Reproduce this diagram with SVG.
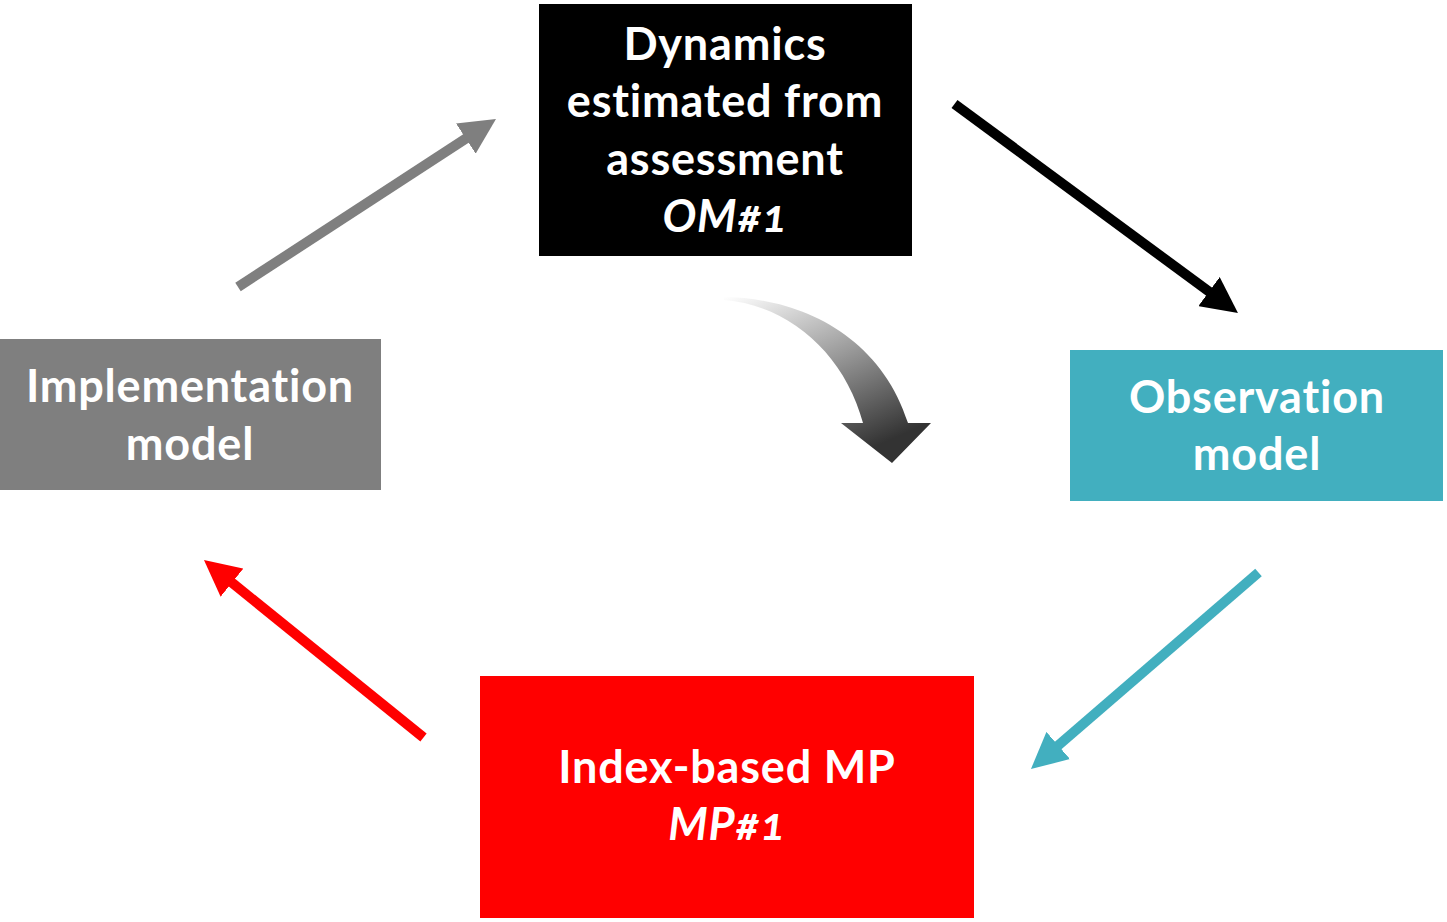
<svg xmlns="http://www.w3.org/2000/svg" width="1447" height="922" viewBox="0 0 1447 922">
<style>
.lbl{font-family:Lato,"Open Sans","Liberation Sans",sans-serif;font-weight:bold;font-size:45px;letter-spacing:0.8px;fill:#ffffff;text-anchor:middle;font-variant-numeric:oldstyle-nums;font-variant-ligatures:none}
.it{font-style:italic}
.conn{stroke-width:10;fill:none;stroke-linecap:butt}
</style>
<defs>
<marker id="hGray" viewBox="0 0 36 36" refX="2" refY="18" markerWidth="36" markerHeight="36" markerUnits="userSpaceOnUse" orient="auto"><path d="M0 0 L36 18 L0 36 Z" fill="#7f7f7f"/></marker>
<marker id="hBlack" viewBox="0 0 36 36" refX="2" refY="18" markerWidth="36" markerHeight="36" markerUnits="userSpaceOnUse" orient="auto"><path d="M0 0 L36 18 L0 36 Z" fill="#000000"/></marker>
<marker id="hTeal" viewBox="0 0 36 36" refX="2" refY="18" markerWidth="36" markerHeight="36" markerUnits="userSpaceOnUse" orient="auto"><path d="M0 0 L36 18 L0 36 Z" fill="#42afbf"/></marker>
<marker id="hRed" viewBox="0 0 36 36" refX="2" refY="18" markerWidth="36" markerHeight="36" markerUnits="userSpaceOnUse" orient="auto"><path d="M0 0 L36 18 L0 36 Z" fill="#ff0000"/></marker>
<linearGradient id="curveGrad" x1="0" y1="0" x2="0.55" y2="1">
<stop offset="0" stop-color="#ffffff"/>
<stop offset="0.5" stop-color="#9a9a9a"/>
<stop offset="1" stop-color="#333333"/>
</linearGradient>
</defs>
<rect width="1447" height="922" fill="#ffffff"/>
<g id="connectors">
<line class="conn" x1="238" y1="287" x2="467.5" y2="137.5" stroke="#7f7f7f" marker-end="url(#hGray)"/>
<line class="conn" x1="954.5" y1="104" x2="1210.6" y2="292.8" stroke="#000000" marker-end="url(#hBlack)"/>
<line class="conn" x1="1258.5" y1="572.5" x2="1056.7" y2="746.8" stroke="#42afbf" marker-end="url(#hTeal)"/>
<line class="conn" x1="423.5" y1="737.5" x2="230.4" y2="581.4" stroke="#ff0000" marker-end="url(#hRed)"/>
<path id="curved-arrow" d="M724 297 C800 298 880 335 908 423 L931 423 L892 463 L841 423 L863 423 C845 355 790 305 724 300 Z" fill="url(#curveGrad)"/>
</g>
<g id="node-dynamics">
<rect x="539" y="4" width="373" height="252" fill="#000000"/>
<text class="lbl" x="725" y="60">Dynamics</text>
<text class="lbl" x="725" y="117">estimated from</text>
<text class="lbl" x="725" y="175">assessment</text>
<text class="lbl it" x="725" y="232">OM#1</text>
</g>
<g id="node-observation">
<rect x="1070" y="350" width="373" height="151" fill="#42afbf"/>
<text class="lbl" x="1257" y="413">Observation</text>
<text class="lbl" x="1257" y="470">model</text>
</g>
<g id="node-index">
<rect x="480" y="676" width="494" height="242" fill="#ff0000"/>
<text class="lbl" x="727" y="783">Index-based MP</text>
<text class="lbl it" x="727" y="840">MP#1</text>
</g>
<g id="node-implementation">
<rect x="0" y="339" width="381" height="151" fill="#7f7f7f"/>
<text class="lbl" x="190" y="402">Implementation</text>
<text class="lbl" x="190" y="460">model</text>
</g>
</svg>
